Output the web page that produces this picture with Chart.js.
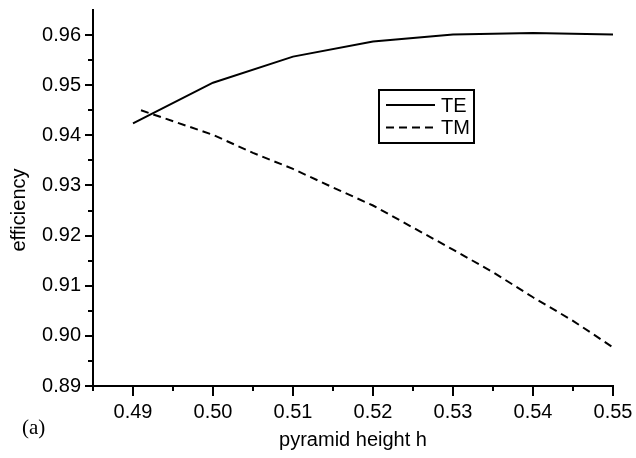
<!DOCTYPE html>
<html>
<head>
<meta charset="utf-8">
<style>
  html, body { margin: 0; padding: 0; background: #fff; }
  #wrap { width: 636px; height: 458px; position: relative; }
</style>
<script src="https://cdn.jsdelivr.net/npm/chart.js@4"></script>
</head>
<body>
<div id="wrap"><canvas id="c" width="636" height="458"></canvas></div>
<script>
// ---- data ----
const seriesLabels = ["TE", "TM"];
const hTE = [0.49, 0.50, 0.51, 0.52, 0.53, 0.54, 0.55];
const effTE = [0.9424, 0.9505, 0.9557, 0.9587, 0.9601, 0.9604, 0.9601];
const hTM = [0.491, 0.50, 0.505, 0.51, 0.515, 0.52, 0.525, 0.53, 0.535, 0.54, 0.545, 0.55];
const effTM = [0.9450, 0.9401, 0.9365, 0.9333, 0.9296, 0.9260, 0.9216, 0.9172, 0.9127, 0.9077, 0.9030, 0.8977];
const xMajorTicks = [0.49, 0.50, 0.51, 0.52, 0.53, 0.54, 0.55];
const xMinorTicks = [0.485, 0.495, 0.505, 0.515, 0.525, 0.535, 0.545];
const yMajorTicks = [0.89, 0.90, 0.91, 0.92, 0.93, 0.94, 0.95, 0.96];
const yMinorTicks = [0.895, 0.905, 0.915, 0.925, 0.935, 0.945, 0.955];
const xTitle = "pyramid height h";
const yTitle = "efficiency";
const panelLabel = "(a)";

const FONT = "'Liberation Sans', Arial, sans-serif";

const tickPlugin = {
  id: 'ticksAndExtras',
  afterDraw(chart) {
    const ctx = chart.ctx;
    const xs = chart.scales.x, ys = chart.scales.y;
    const area = chart.chartArea;
    ctx.save();
    ctx.strokeStyle = '#000';
    ctx.lineWidth = 2;
    ctx.lineCap = 'butt';
    const drawX = (vals, len) => vals.forEach(v => {
      const px = Math.round(xs.getPixelForValue(v));
      ctx.beginPath(); ctx.moveTo(px, area.bottom); ctx.lineTo(px, area.bottom + len); ctx.stroke();
    });
    const drawY = (vals, len) => vals.forEach(v => {
      const py = Math.round(ys.getPixelForValue(v));
      ctx.beginPath(); ctx.moveTo(area.left, py); ctx.lineTo(area.left - len, py); ctx.stroke();
    });
    drawX(xMajorTicks, 10); drawX(xMinorTicks, 5);
    drawY(yMajorTicks, 8); drawY(yMinorTicks, 5);

    // y axis title
    ctx.save();
    ctx.translate(19, 210);
    ctx.rotate(-Math.PI / 2);
    ctx.font = "20px " + FONT;
    ctx.fillStyle = '#000';
    ctx.textAlign = 'center';
    ctx.textBaseline = 'middle';
    ctx.fillText(yTitle, 0, 0);
    ctx.restore();

    // legend box
    const lx = 379, ly = 90, lw = 95, lh = 53;
    ctx.lineWidth = 2;
    ctx.strokeRect(lx, ly, lw, lh);
    ctx.font = "20px " + FONT;
    ctx.fillStyle = '#000';
    ctx.textBaseline = 'middle';
    ctx.textAlign = 'left';
    chart.data.datasets.forEach((ds, i) => {
      const y = 105 + i * 22.5;
      ctx.beginPath();
      ctx.setLineDash(ds.borderDash || []);
      ctx.lineWidth = 2;
      ctx.moveTo(386, y); ctx.lineTo(435, y); ctx.stroke();
      ctx.setLineDash([]);
      ctx.fillText(ds.label, 441, y + 1);
    });

    // panel label
    ctx.font = "21px 'Liberation Serif', 'Times New Roman', serif";
    ctx.fillText(panelLabel, 22, 428);
    ctx.restore();
  }
};

new Chart(document.getElementById('c'), {
  type: 'line',
  data: {
    datasets: [
      {
        label: seriesLabels[0],
        data: hTE.map((h, i) => ({ x: h, y: effTE[i] })),
        borderColor: '#000', borderWidth: 2, pointRadius: 0, fill: false, tension: 0
      },
      {
        label: seriesLabels[1],
        data: hTM.map((h, i) => ({ x: h, y: effTM[i] })),
        borderColor: '#000', borderWidth: 2, borderDash: [8, 5], pointRadius: 0, fill: false, tension: 0
      }
    ]
  },
  options: {
    responsive: false,
    animation: false,
    devicePixelRatio: 1,
    layout: { padding: { left: 0, right: 23, top: 10, bottom: 0 } },
    plugins: { legend: { display: false }, tooltip: { enabled: false } },
    scales: {
      x: {
        type: 'linear',
        min: 0.485, max: 0.55,
        afterBuildTicks: s => { s.ticks = xMajorTicks.map(v => ({ value: v })); },
        afterFit: s => { s.height = 72; s.paddingLeft = 0; s.paddingRight = 0; },
        ticks: {
          autoSkip: false, maxRotation: 0, color: '#000', padding: 4,
          font: { family: FONT, size: 20 },
          callback: v => Number(v).toFixed(2)
        },
        grid: { display: true, drawOnChartArea: false, drawTicks: true, tickLength: 10, color: 'rgba(0,0,0,0)' },
        border: { display: true, color: '#000', width: 2 },
        title: { display: true, text: xTitle, color: '#000', font: { family: FONT, size: 20 }, padding: { top: 0, bottom: 6 } }
      },
      y: {
        type: 'linear',
        min: 0.89, max: 0.965,
        afterBuildTicks: s => { s.ticks = yMajorTicks.map(v => ({ value: v })); },
        afterFit: s => { s.width = 93; s.paddingTop = 0; s.paddingBottom = 0; },
        ticks: {
          autoSkip: false, color: '#000', padding: 4,
          font: { family: FONT, size: 20 },
          callback: v => Number(v).toFixed(2)
        },
        grid: { display: true, drawOnChartArea: false, drawTicks: true, tickLength: 8, color: 'rgba(0,0,0,0)' },
        border: { display: true, color: '#000', width: 2 },
        title: { display: false, text: yTitle }
      }
    }
  },
  plugins: [tickPlugin]
});
</script>
</body>
</html>
